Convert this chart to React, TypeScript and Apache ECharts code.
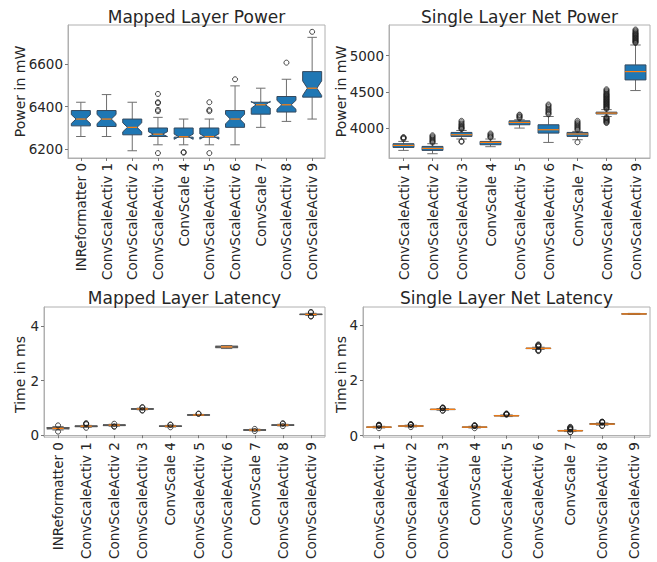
import React, { useEffect, useRef } from "react";
import * as echarts from "echarts";

// ---------- data ----------
const mappedCats = [
  "INReformatter 0", "ConvScaleActiv 1", "ConvScaleActiv 2", "ConvScaleActiv 3", "ConvScale 4",
  "ConvScaleActiv 5", "ConvScaleActiv 6", "ConvScale 7", "ConvScaleActiv 8", "ConvScaleActiv 9",
];
const singleCats = [
  "ConvScaleActiv 1", "ConvScaleActiv 2", "ConvScaleActiv 3", "ConvScale 4",
  "ConvScaleActiv 5", "ConvScaleActiv 6", "ConvScale 7", "ConvScaleActiv 8", "ConvScaleActiv 9",
];

// [lower whisker, Q1, median, Q3, upper whisker]
const mappedPowerStats = [
  [6259, 6309, 6341, 6381, 6420],
  [6259, 6306, 6341, 6381, 6456],
  [6192, 6267, 6302, 6341, 6420],
  [6220, 6259, 6270, 6299, 6349],
  [6220, 6256, 6258, 6299, 6341],
  [6220, 6256, 6259, 6299, 6341],
  [6220, 6302, 6341, 6381, 6497],
  [6302, 6364, 6408, 6420, 6486],
  [6330, 6374, 6408, 6447, 6528],
  [6341, 6444, 6486, 6564, 6725],
];
const mappedPowerOutliers = [
  [], [], [],
  [6181, 6378, 6384, 6416, 6420, 6459],
  [6183, 6186],
  [6181, 6378, 6384, 6420],
  [6528], [], [6606], [6751],
];

const singlePowerStats = [
  [3692, 3733, 3761, 3784, 3816],
  [3646, 3692, 3720, 3747, 3784],
  [3849, 3885, 3908, 3940, 3967],
  [3743, 3770, 3802, 3816, 3849],
  [4000, 4046, 4078, 4100, 4115],
  [3802, 3931, 3977, 4046, 4160],
  [3839, 3885, 3918, 3940, 3954],
  [4160, 4195, 4207, 4220, 4255],
  [4518, 4665, 4780, 4872, 5147],
];
const singlePowerOutliers = [
  [3850, 3862, 3868, 3875],
  [3800, 3812, 3825, 3840, 3855, 3870, 3885, 3900],
  [3810, 3820, 3985, 3995, 4005, 4015, 4030, 4045, 4060, 4080, 4100],
  [3870, 3880, 3895, 3910, 3925],
  [4135, 4150, 4160, 4175, 4185],
  [4190, 4205, 4220, 4240, 4255, 4270, 4290, 4310, 4325],
  [3805, 3975, 3990, 4005, 4020, 4035, 4050, 4065, 4080, 4100],
  [4070, 4080, 4090, 4100, 4110, 4120, 4130, 4140, 4150, 4265, 4275, 4285, 4295, 4305, 4315, 4325,
    4335, 4345, 4355, 4365, 4375, 4385, 4395, 4405, 4415, 4425, 4435, 4445, 4455, 4465, 4475, 4490,
    4505, 4520, 4535],
  [5175, 5185, 5195, 5205, 5215, 5225, 5235, 5245, 5255, 5265, 5275, 5285, 5295, 5305, 5315, 5330,
    5345, 5360],
];

const mappedLatencyStats = [
  [0.19, 0.23, 0.25, 0.28, 0.32],
  [0.29, 0.31, 0.33, 0.34, 0.36],
  [0.33, 0.35, 0.37, 0.38, 0.40],
  [0.93, 0.95, 0.96, 0.97, 0.99],
  [0.30, 0.32, 0.33, 0.34, 0.36],
  [0.72, 0.73, 0.74, 0.75, 0.76],
  [3.17, 3.20, 3.23, 3.26, 3.28],
  [0.16, 0.18, 0.19, 0.20, 0.22],
  [0.34, 0.36, 0.37, 0.38, 0.40],
  [4.38, 4.41, 4.42, 4.43, 4.46],
];
const mappedLatencyOutliers = [
  [0.13, 0.36],
  [0.27, 0.40, 0.42, 0.44],
  [0.31, 0.32, 0.42],
  [0.90, 0.91, 1.01, 1.03],
  [0.29, 0.38, 0.39],
  [0.78, 0.79],
  [],
  [0.15, 0.23],
  [0.33, 0.42, 0.44],
  [4.34, 4.35, 4.49, 4.51],
];

const singleLatencyStats = [
  [0.28, 0.30, 0.31, 0.32, 0.34],
  [0.32, 0.34, 0.35, 0.36, 0.38],
  [0.92, 0.94, 0.95, 0.96, 0.98],
  [0.28, 0.30, 0.31, 0.32, 0.34],
  [0.69, 0.71, 0.72, 0.73, 0.75],
  [3.11, 3.14, 3.15, 3.16, 3.19],
  [0.15, 0.17, 0.18, 0.19, 0.21],
  [0.38, 0.41, 0.42, 0.44, 0.46],
  [4.37, 4.38, 4.39, 4.40, 4.41],
];
const singleLatencyOutliers = [
  [0.27, 0.36, 0.37, 0.38, 0.39, 0.40],
  [0.31, 0.39, 0.40, 0.41, 0.42],
  [0.90, 0.91, 0.99, 1.00, 1.01, 1.02],
  [0.27, 0.35, 0.36, 0.37, 0.38],
  [0.76, 0.77, 0.78, 0.79, 0.80],
  [3.05, 3.07, 3.09, 3.21, 3.23, 3.25, 3.27, 3.29],
  [0.12, 0.13, 0.22, 0.24, 0.26, 0.28, 0.30, 0.32],
  [0.35, 0.36, 0.48, 0.49, 0.50, 0.51],
  [],
];

const titles = ["Mapped Layer Power", "Single Layer Net Power", "Mapped Layer Latency", "Single Layer Net Latency"];
const yNames = ["Power in mW", "Power in mW", "Time in ms", "Time in ms"];
const yTicks = [[6200, 6400, 6600], [4000, 4500, 5000], [0, 2, 4], [0, 2, 4]];

// ---------- styling / layout ----------
const FONT = "DejaVu Sans";
const TXT = "#262626";
const FRAME = "#b0b0b0";
const TICKFS = 13.5;
const grids = [
  { left: 68, top: 25, width: 257, height: 133 },
  { left: 389, top: 25, width: 261, height: 133 },
  { left: 44, top: 307, width: 281, height: 135 },
  { left: 363, top: 307, width: 287, height: 135 },
];
const yRanges = [
  [6158, 6783],
  [3587, 5423],
  [-0.07, 4.69],
  [-0.05, 4.64],
];

function boxRenderer(widthRatio: number, notch: boolean, fill: string, edge: string) {
  const N = 30;
  return (params: any, api: any) => {
    const i = api.value(0);
    const lo = api.value(1), q1 = api.value(2), med = api.value(3), q3 = api.value(4), hi = api.value(5);
    const band = api.size([1, 0])[0];
    const w = band * widthRatio;
    const cx = api.coord([i, med])[0];
    const Y = (v: number) => api.coord([i, v])[1];
    const L = cx - w / 2, R = cx + w / 2;
    const cl = cx - w / 4, cr = cx + w / 4;
    const whisk = { stroke: "#6e6e6e", lineWidth: 1 };
    const children: any[] = [];
    children.push({ type: "line", shape: { x1: cx, y1: Y(q3), x2: cx, y2: Y(hi) }, style: whisk });
    children.push({ type: "line", shape: { x1: cx, y1: Y(q1), x2: cx, y2: Y(lo) }, style: whisk });
    children.push({ type: "line", shape: { x1: cl, y1: Y(hi), x2: cr, y2: Y(hi) }, style: whisk });
    children.push({ type: "line", shape: { x1: cl, y1: Y(lo), x2: cr, y2: Y(lo) }, style: whisk });
    let pts: number[][];
    let mx1 = L, mx2 = R;
    if (notch) {
      const d = (1.57 * (q3 - q1)) / Math.sqrt(N);
      const cilo = med - d, cihi = med + d;
      pts = [
        [L, Y(q1)], [R, Y(q1)], [R, Y(cilo)], [cr, Y(med)], [R, Y(cihi)], [R, Y(q3)],
        [L, Y(q3)], [L, Y(cihi)], [cl, Y(med)], [L, Y(cilo)],
      ];
      mx1 = cl; mx2 = cr;
    } else {
      pts = [[L, Y(q1)], [R, Y(q1)], [R, Y(q3)], [L, Y(q3)]];
    }
    children.push({ type: "polygon", shape: { points: pts }, style: { fill, stroke: edge, lineWidth: 1 } });
    children.push({ type: "line", shape: { x1: mx1, y1: Y(med), x2: mx2, y2: Y(med) }, style: { stroke: "#ff7f0e", lineWidth: 1.2 } });
    return { type: "group", children };
  };
}

export default function App() {
  const ref = useRef<HTMLDivElement>(null);
  useEffect(() => {
    if (!ref.current) return;
    const chart = echarts.init(ref.current, undefined, { renderer: "svg" });
    const cats = [mappedCats, singleCats, mappedCats, singleCats];
    const stats = [mappedPowerStats, singlePowerStats, mappedLatencyStats, singleLatencyStats];
    const outs = [mappedPowerOutliers, singlePowerOutliers, mappedLatencyOutliers, singleLatencyOutliers];
    const cfg = [
      { ratio: 0.74, notch: true, fill: "#1f77b4", edge: "#34495e" },
      { ratio: 0.72, notch: false, fill: "#1f77b4", edge: "#34495e" },
      { ratio: 0.8, notch: true, fill: "rgba(0,0,0,0)", edge: "#555" },
      { ratio: 0.78, notch: false, fill: "rgba(0,0,0,0)", edge: "#555" },
    ];

    const series: any[] = [];
    for (let k = 0; k < 4; k++) {
      series.push({
        type: "custom",
        xAxisIndex: k,
        yAxisIndex: k,
        renderItem: boxRenderer(cfg[k].ratio, cfg[k].notch, cfg[k].fill, cfg[k].edge),
        data: stats[k].map((s, i) => [i, ...s]),
        z: 2,
      });
      const pts: number[][] = [];
      outs[k].forEach((arr, i) => arr.forEach((v) => pts.push([i, v])));
      series.push({
        type: "scatter",
        xAxisIndex: k,
        yAxisIndex: k,
        symbol: "circle",
        symbolSize: 5,
        itemStyle: { color: "rgba(0,0,0,0)", borderColor: "#1a1a1a", borderWidth: 1 },
        data: pts,
        z: 3,
      });
    }

    const graphic: any[] = [];
    grids.forEach((g, k) => {
      graphic.push({
        type: "text",
        x: g.left + g.width / 2,
        y: k < 2 ? 17 : 298,
        style: { text: titles[k], font: `17px "${FONT}"`, fill: TXT, align: "center", verticalAlign: "middle" },
      });
      graphic.push({
        type: "text",
        x: k % 2 === 0 ? 20 : 341,
        y: g.top + g.height / 2,
        rotation: Math.PI / 2,
        style: { text: yNames[k], font: `14px "${FONT}"`, fill: TXT, align: "center", verticalAlign: "middle" },
      });
    });

    chart.setOption({
      animation: false,
      backgroundColor: "#ffffff",
      textStyle: { fontFamily: FONT },
      grid: grids.map((g) => ({ ...g, show: true, borderColor: FRAME, borderWidth: 1, containLabel: false })),
      xAxis: cats.map((c, k) => ({
        gridIndex: k,
        type: "category",
        data: c,
        axisLine: { show: true, lineStyle: { color: FRAME } },
        axisTick: { show: true, alignWithLabel: true, length: 3, lineStyle: { color: "#777" } },
        axisLabel: { rotate: 90, interval: 0, fontSize: TICKFS, color: TXT, margin: 5, fontFamily: FONT },
        splitLine: { show: false },
      })),
      yAxis: yRanges.map((r, k) => ({
        gridIndex: k,
        type: "value",
        min: r[0],
        max: r[1],
        axisLine: { show: true, lineStyle: { color: FRAME } },
        axisTick: { show: true, length: 3, customValues: yTicks[k], lineStyle: { color: "#777" } },
        axisLabel: {
          customValues: yTicks[k],
          formatter: (v: number) => String(v),
          fontSize: TICKFS,
          color: TXT,
          margin: 5,
          fontFamily: FONT,
        },
        splitLine: { show: false },
      })),
      graphic,
      series,
    });
    return () => chart.dispose();
  }, []);
  return (
    <div
      ref={ref}
      style={{ position: "fixed", left: 0, top: 0, width: 657, height: 562, background: "#fff" }}
    />
  );
}
